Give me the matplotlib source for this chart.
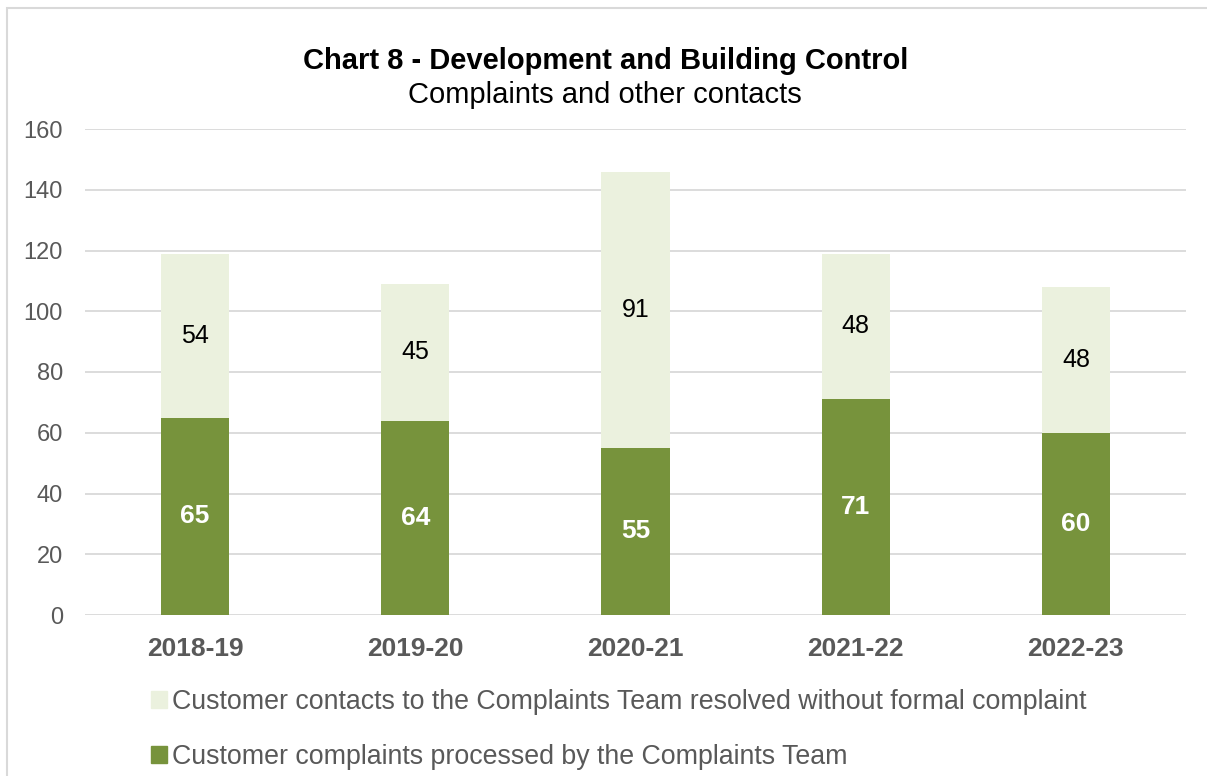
import matplotlib.pyplot as plt
from matplotlib.patches import Rectangle, Patch

plt.rcParams["font.family"] = ["Liberation Sans", "DejaVu Sans"]

years = ["2018-19", "2019-20", "2020-21", "2021-22", "2022-23"]
complaints = [65, 64, 55, 71, 60]
contacts = [54, 45, 91, 48, 48]
y_ticks = [0, 20, 40, 60, 80, 100, 120, 140, 160]

dark = "#77933C"
light = "#EBF1DE"
grey_text = "#595959"

W, H = 1207, 776
fig = plt.figure(figsize=(W / 100, H / 100), dpi=100)
ax = fig.add_axes([85 / W, 1 - 615 / H, (1186 - 85) / W, (615 - 129) / H])

x = list(range(len(years)))
bw = 0.31
ax.bar(x, complaints, width=bw, color=dark, zorder=3)
ax.bar(x, contacts, width=bw, bottom=complaints, color=light, zorder=3)

for i in x:
    ax.text(i, complaints[i] / 2, str(complaints[i]), ha="center", va="center",
            color="white", fontsize=19, fontweight="bold", zorder=4)
    ax.text(i, complaints[i] + contacts[i] / 2, str(contacts[i]), ha="center", va="center",
            color="black", fontsize=18, zorder=4)

ax.set_xlim(-0.5, len(years) - 0.5)
ax.set_ylim(0, 160)
ax.set_yticks(y_ticks)
ax.set_xticks(x)
ax.set_xticklabels(years, fontweight="bold", fontsize=19, color=grey_text)
ax.tick_params(axis="y", length=0, pad=16, labelsize=17, labelcolor=grey_text)
ax.tick_params(axis="x", length=0, pad=16)
ax.grid(axis="y", color="#D9D9D9", linewidth=1.3, zorder=0)
for s in ax.spines.values():
    s.set_visible(False)

fig.text(0.5015, 1 - 61 / H, "Chart 8 - Development and Building Control", ha="center",
         va="center", fontsize=21, fontweight="bold", color="black")
fig.text(0.5015, 1 - 95 / H, "Complaints and other contacts", ha="center",
         va="center", fontsize=21, color="black")

handles = [Patch(color=light), Patch(color=dark)]
labels = ["Customer contacts to the Complaints Team resolved without formal complaint",
          "Customer complaints processed by the Complaints Team"]
fig.legend(handles, labels, loc="upper left", bbox_to_anchor=(151 / W, 1 - 689 / H),
           frameon=False, fontsize=19.3, labelcolor=grey_text, handlelength=0.6,
           handleheight=0.6, handletextpad=0.2, labelspacing=1.08, borderaxespad=0,
           borderpad=0)

fig.patches.append(Rectangle((7 / W, -0.1), 1.2, 1 - 8 / H + 0.1, transform=fig.transFigure,
                             fill=False, edgecolor="#D9D9D9", linewidth=1.5))

fig.savefig("out.png", dpi=100)
